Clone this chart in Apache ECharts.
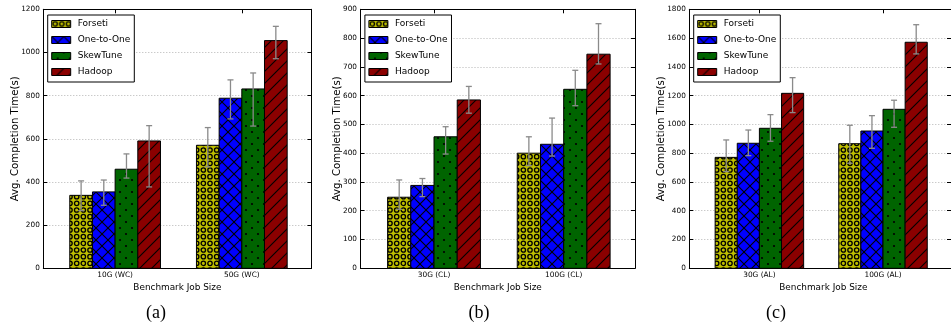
<!DOCTYPE html>
<html><head><meta charset="utf-8">
<script src="https://cdn.jsdelivr.net/npm/echarts@6/dist/echarts.min.js"></script>
<style>html,body{margin:0;padding:0;background:#fff}#c{width:951px;height:328px}</style>
</head><body><div id="c"></div>
<script>
// ---------------- DATA ----------------
const seriesNames = ['Forseti', 'One-to-One', 'SkewTune', 'Hadoop'];
const catsA = ['10G (WC)', '50G (WC)'];
const catsB = ['30G (CL)', '100G (CL)'];
const catsC = ['30G (AL)', '100G (AL)'];

// panel (a)
const aForseti = [338, 570], aForsetiLo = [267, 470], aForsetiHi = [405, 652];
const aOne     = [354, 788], aOneLo     = [292, 692], aOneHi     = [409, 873];
const aSkew    = [459, 831], aSkewLo    = [418, 659], aSkewHi    = [530, 905];
const aHadoop  = [590, 1055], aHadoopLo = [377, 971], aHadoopHi  = [661, 1121];
// panel (b)
const bForseti = [247, 400], bForsetiLo = [205, 357], bForsetiHi = [307, 457];
const bOne     = [288, 431], bOneLo     = [249, 390], bOneHi     = [312, 522];
const bSkew    = [457, 622], bSkewLo    = [397, 565], bSkewHi    = [492, 688];
const bHadoop  = [585, 744], bHadoopLo  = [539, 710], bHadoopHi  = [632, 850];
// panel (c)
const cForseti = [771, 866], cForsetiLo = [672, 730], cForsetiHi = [892, 994];
const cOne     = [869, 954], cOneLo     = [783, 834], cOneHi     = [961, 1061];
const cSkew    = [973, 1105], cSkewLo   = [883, 980], cSkewHi    = [1068, 1168];
const cHadoop  = [1216, 1571], cHadoopLo = [1082, 1490], cHadoopHi = [1325, 1693];

const yMaxA = 1200, yStepA = 200;
const yMaxB = 900,  yStepB = 100;
const yMaxC = 1800, yStepC = 200;
const yTitle = 'Avg. Completion Time(s)';
const xTitle = 'Benchmark Job Size';
const captions = ['(a)', '(b)', '(c)'];

// ---------------- STYLE ----------------
const FONT = 'DejaVu Sans';
const XMIN = -0.567, XMAX = 1.55, BAR_W = 0.179;
const colors = ['#bfbf00', '#0000ff', '#006400', '#8b0000'];

function tile(kind, color) {
  const cv = document.createElement('canvas');
  const w = kind === 'circles' ? 20 : 12, h = w;
  cv.width = w; cv.height = h;
  const g = cv.getContext('2d');
  g.fillStyle = color; g.fillRect(0, 0, w, h);
  g.strokeStyle = '#000'; g.fillStyle = '#000';
  if (kind === 'circles') {
    g.lineWidth = 1.3;
    const s = 20 / 3;
    for (let i = -1; i <= 3; i++) for (let j = -1; j <= 3; j++) {
      g.beginPath(); g.arc(s / 2 + i * s, s / 2 + j * s, 2.2, 0, Math.PI * 2); g.stroke();
    }
  } else if (kind === 'cross') {
    g.lineWidth = 1.1;
    g.beginPath(); g.moveTo(-1, -1); g.lineTo(13, 13); g.stroke();
    g.beginPath(); g.moveTo(-1, 13); g.lineTo(13, -1); g.stroke();
  } else if (kind === 'dots') {
    [[0,0],[12,0],[0,12],[12,12],[6,6]].forEach(([x, y]) => {
      g.beginPath(); g.arc(x, y, 1.1, 0, Math.PI * 2); g.fill();
    });
  } else {
    g.lineWidth = 1.1;
    g.beginPath(); g.moveTo(-1, 13); g.lineTo(13, -1); g.stroke();
    g.beginPath(); g.moveTo(-1, 1); g.lineTo(1, -1); g.stroke();
    g.beginPath(); g.moveTo(11, 13); g.lineTo(13, 11); g.stroke();
  }
  return { image: cv, repeat: 'repeat' };
}
const patterns = [tile('circles', colors[0]), tile('cross', colors[1]), tile('dots', colors[2]), tile('diag', colors[3])];

const panels = [
  { cats: catsA, vals: [aForseti, aOne, aSkew, aHadoop], lo: [aForsetiLo, aOneLo, aSkewLo, aHadoopLo], hi: [aForsetiHi, aOneHi, aSkewHi, aHadoopHi], ymax: yMaxA, step: yStepA, left: 43.3, width: 268.2, titleX: 15, capX: 156 },
  { cats: catsB, vals: [bForseti, bOne, bSkew, bHadoop], lo: [bForsetiLo, bOneLo, bSkewLo, bHadoopLo], hi: [bForsetiHi, bOneHi, bSkewHi, bHadoopHi], ymax: yMaxB, step: yStepB, left: 360.5, width: 274.5, titleX: 337, capX: 479 },
  { cats: catsC, vals: [cForseti, cOne, cSkew, cHadoop], lo: [cForsetiLo, cOneLo, cSkewLo, cHadoopLo], hi: [cForsetiHi, cOneHi, cSkewHi, cHadoopHi], ymax: yMaxC, step: yStepC, left: 689.3, width: 268, titleX: 661, capX: 776 }
];
const TOP = 9.3, HEIGHT = 259;

const grid = [], xAxis = [], yAxis = [], series = [], legend = [], graphic = [];
panels.forEach((p, gi) => {
  grid.push({ left: p.left, top: TOP, width: p.width, height: HEIGHT, show: false });
  const tick = { show: true, inside: true, length: 4, lineStyle: { color: '#000', width: 1 } };
  const line = { show: true, onZero: false, lineStyle: { color: '#000', width: 1 } };
  xAxis.push({ type: 'value', gridIndex: gi, min: XMIN, max: XMAX, position: 'bottom',
    axisLine: line, axisTick: Object.assign({ customValues: [0, 1] }, tick),
    axisLabel: { customValues: [0, 1], formatter: v => p.cats[Math.round(v)], fontFamily: FONT, fontSize: 7.4, color: '#000', margin: 3 },
    splitLine: { show: false } });
  xAxis.push({ type: 'value', gridIndex: gi, min: XMIN, max: XMAX, position: 'top',
    axisLine: line, axisTick: Object.assign({ customValues: [0, 1] }, tick),
    axisLabel: { show: false }, splitLine: { show: false } });
  yAxis.push({ type: 'value', gridIndex: gi, min: 0, max: p.ymax, interval: p.step, position: 'left',
    axisLine: line, axisTick: tick,
    axisLabel: { formatter: v => String(v), fontFamily: FONT, fontSize: 7.3, color: '#000', margin: 3.5 },
    splitLine: { show: true, lineStyle: { type: [1, 2], color: '#b4b4b4', width: 1 } } });
  yAxis.push({ type: 'value', gridIndex: gi, min: 0, max: p.ymax, interval: p.step, position: 'right',
    axisLine: line, axisTick: tick, axisLabel: { show: false }, splitLine: { show: false } });

  const xi = gi * 2, yi = gi * 2;
  seriesNames.forEach((name, si) => {
    series.push({
      type: 'custom', name: name, xAxisIndex: xi, yAxisIndex: yi, z: 3,
      itemStyle: { color: patterns[si] },
      data: p.vals[si].map((v, ci) => [ci, v]),
      renderItem: (params, api) => {
        const ci = api.value(0), v = api.value(1);
        const l = api.coord([ci - 2 * BAR_W + si * BAR_W, v]);
        const r = api.coord([ci - 2 * BAR_W + (si + 1) * BAR_W, 0]);
        return { type: 'rect', shape: { x: l[0], y: l[1], width: r[0] - l[0], height: r[1] - l[1] },
          style: { fill: patterns[si], stroke: '#000', lineWidth: 1 } };
      }
    });
  });
  const errData = [];
  seriesNames.forEach((name, si) => p.lo[si].forEach((lo, ci) => errData.push([ci, si, lo, p.hi[si][ci]])));
  series.push({
    type: 'custom', name: 'err' + gi, xAxisIndex: xi, yAxisIndex: yi, z: 5, silent: true,
    data: errData,
    renderItem: (params, api) => {
      const ci = api.value(0), si = api.value(1);
      const xc = ci - 2 * BAR_W + (si + 0.5) * BAR_W;
      const a = api.coord([xc, api.value(2)]), b = api.coord([xc, api.value(3)]);
      const st = { stroke: '#8a8a8a', lineWidth: 1.3 };
      return { type: 'group', children: [
        { type: 'line', shape: { x1: a[0], y1: a[1], x2: b[0], y2: b[1] }, style: st },
        { type: 'line', shape: { x1: a[0] - 3, y1: a[1], x2: a[0] + 3, y2: a[1] }, style: st },
        { type: 'line', shape: { x1: b[0] - 3, y1: b[1], x2: b[0] + 3, y2: b[1] }, style: st }
      ] };
    }
  });

  legend.push({
    orient: 'vertical', left: p.left + 4.4, top: 15, selectedMode: false,
    itemWidth: 19, itemHeight: 7, itemGap: 6, padding: [4, 4, 5, 3.5],
    backgroundColor: '#fff', borderColor: '#000', borderWidth: 1, borderRadius: 0, z: 10,
    textStyle: { fontFamily: FONT, fontSize: 9, color: '#000', lineHeight: 10, padding: [0, 0, 0, 2] },
    data: seriesNames.map((n, si) => ({ name: n, icon: 'rect', itemStyle: { color: patterns[si], borderColor: '#000', borderWidth: 1 } }))
  });

  graphic.push({ type: 'text', x: p.titleX, y: TOP + HEIGHT / 2, rotation: Math.PI / 2,
    style: { text: yTitle, font: '10.2px "DejaVu Sans"', fill: '#000', textAlign: 'center', textVerticalAlign: 'middle' } });
  graphic.push({ type: 'text', x: p.left + p.width / 2, y: 287.5,
    style: { text: xTitle, font: '8.9px "DejaVu Sans"', fill: '#000', textAlign: 'center', textVerticalAlign: 'middle' } });
  graphic.push({ type: 'text', x: p.capX, y: 313,
    style: { text: captions[gi], font: '18px "Liberation Serif"', fill: '#000', textAlign: 'center', textVerticalAlign: 'middle' } });
});

const chart = echarts.init(document.getElementById('c'), null, { renderer: 'canvas' });
chart.setOption({ animation: false, backgroundColor: '#fff', grid, xAxis, yAxis, series, legend, graphic });
</script></body></html>
